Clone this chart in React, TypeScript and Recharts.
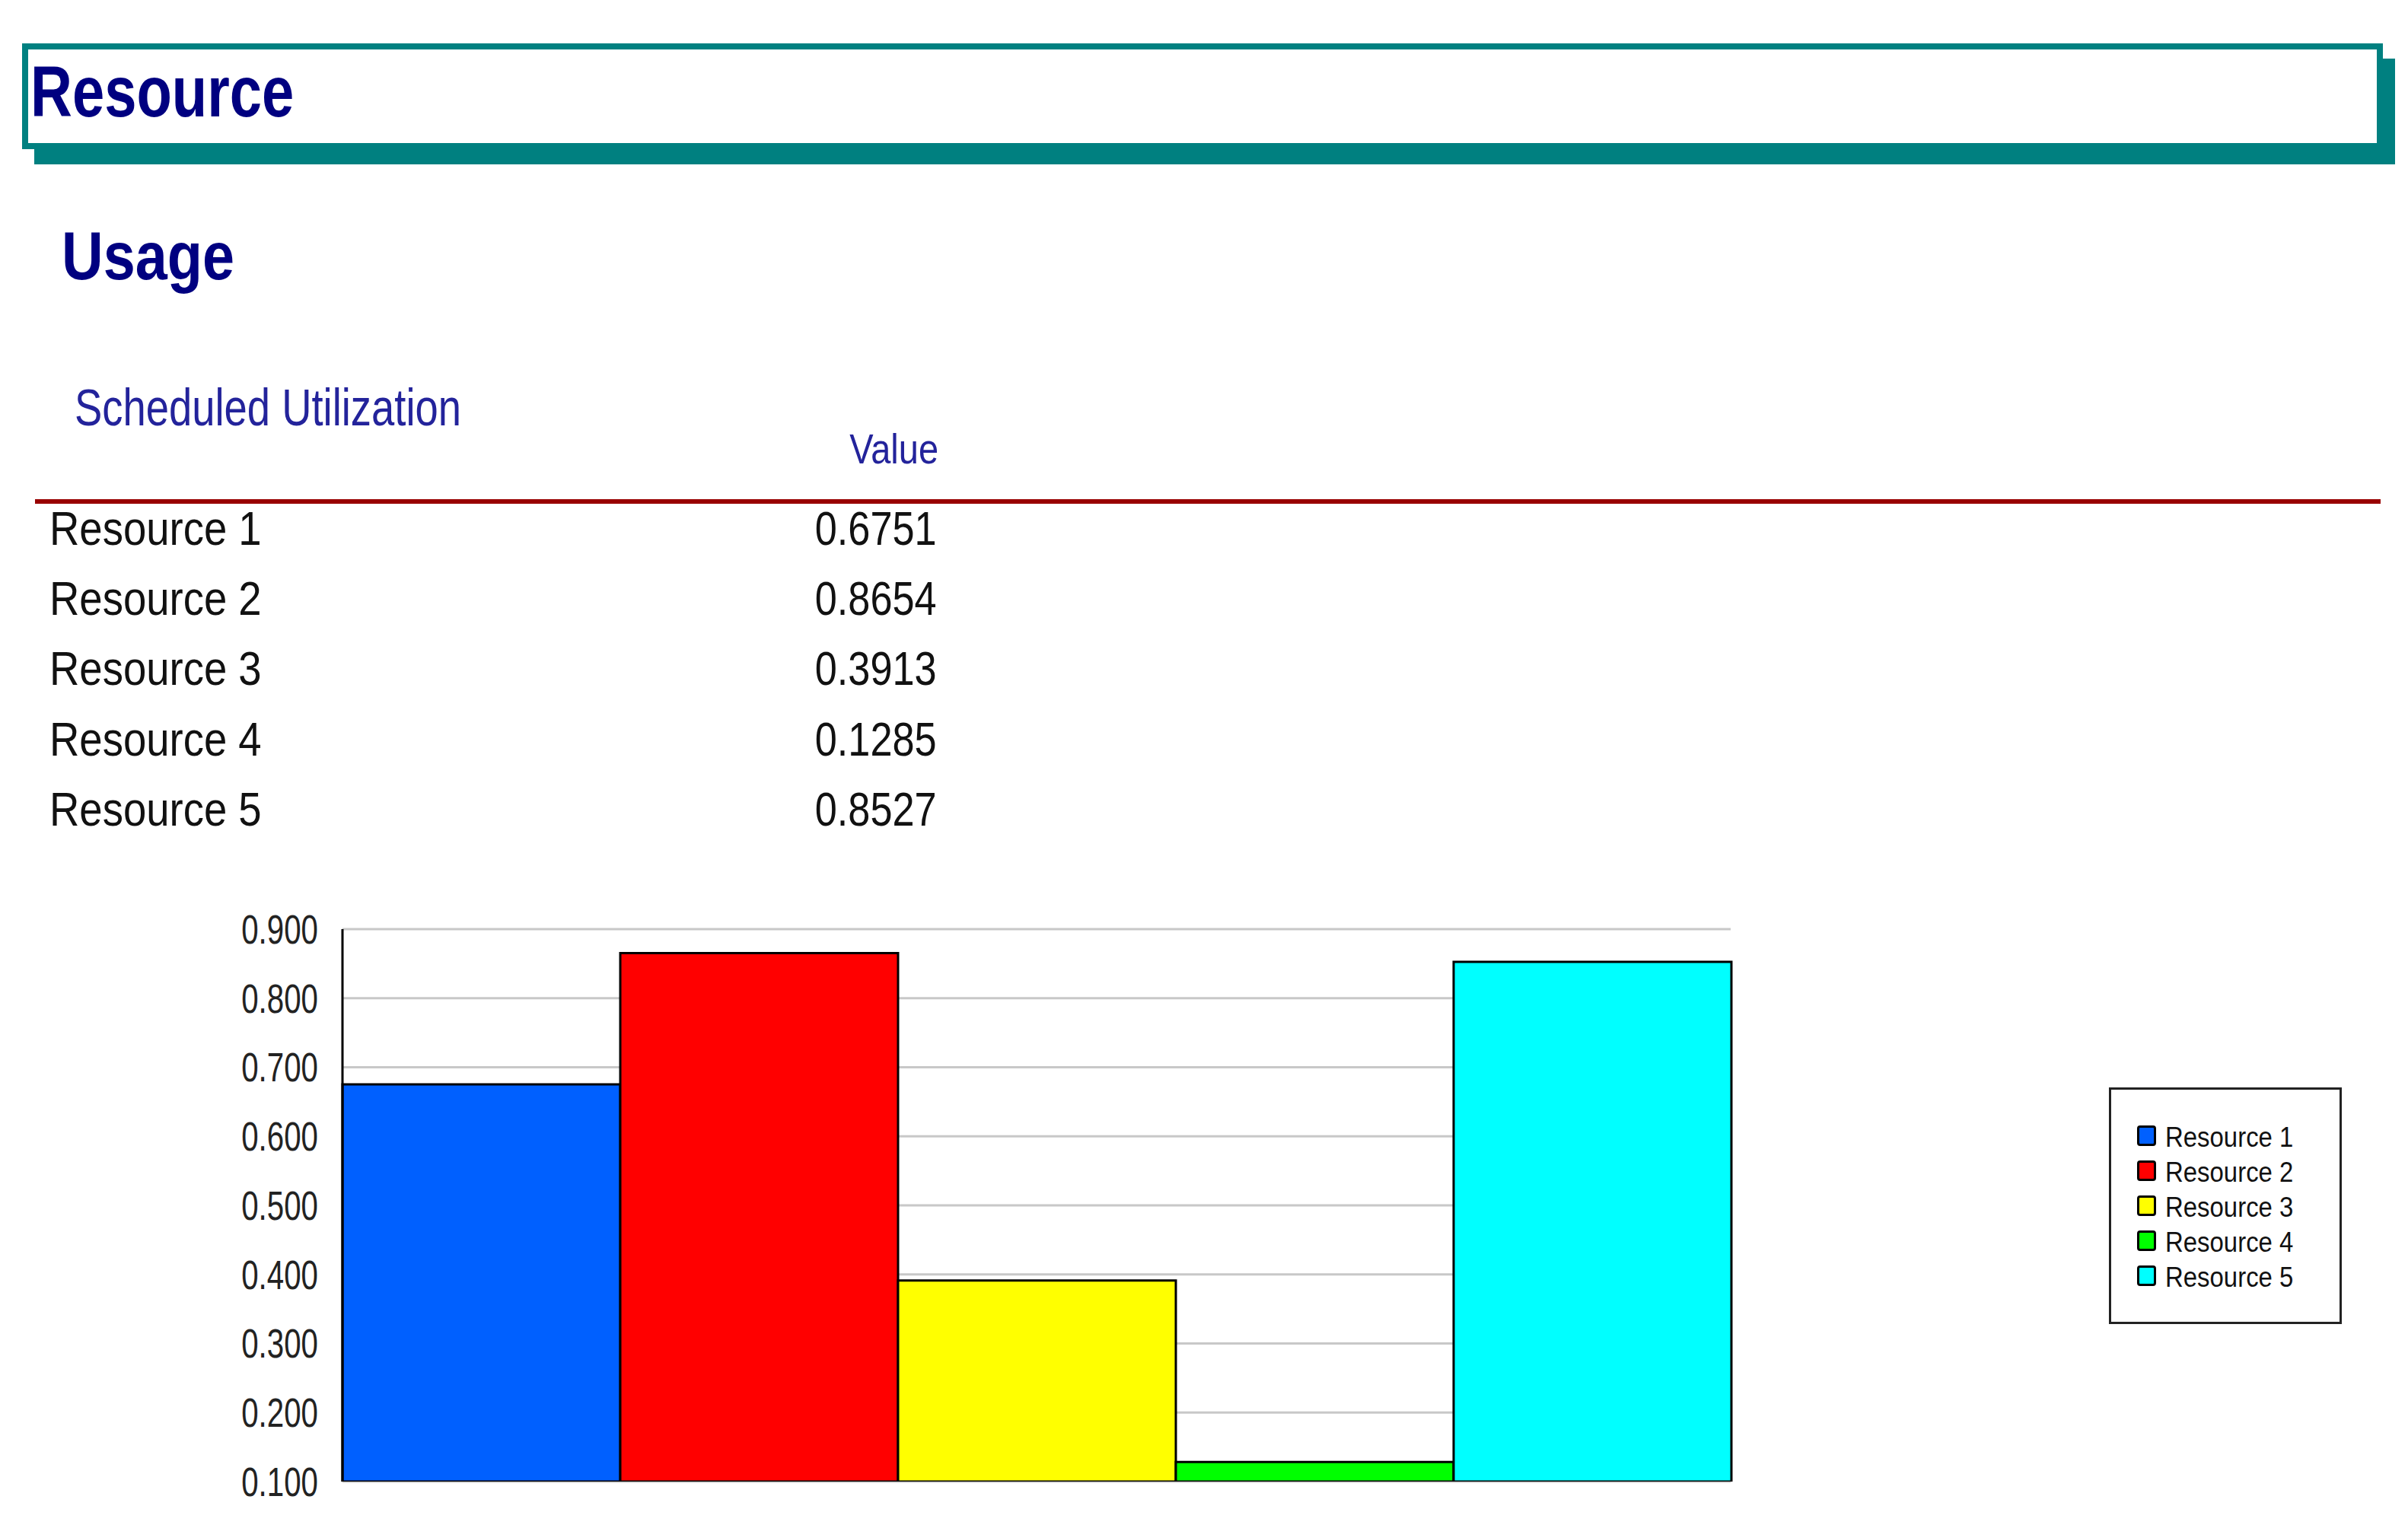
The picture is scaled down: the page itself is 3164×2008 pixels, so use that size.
import React from 'react';
import { BarChart, Bar, XAxis, YAxis, CartesianGrid, Legend } from 'recharts';

const resourceNames = ['Resource 1', 'Resource 2', 'Resource 3', 'Resource 4', 'Resource 5'];
const utilization = [0.6751, 0.8654, 0.3913, 0.1285, 0.8527];
const valueLabels = ['0.6751', '0.8654', '0.3913', '0.1285', '0.8527'];
const barColors = ['#0060ff', '#ff0000', '#ffff00', '#00ff00', '#00ffff'];
const yTicks = [0.1, 0.2, 0.3, 0.4, 0.5, 0.6, 0.7, 0.8, 0.9];

const seriesKeys = resourceNames.map((_, i) => `r${i + 1}`);

// one category, five series side by side (like the original report chart)
const chartData = [
  resourceNames.reduce<Record<string, string | number>>(
    (row, _, i) => ({ ...row, [seriesKeys[i]]: utilization[i] }),
    { name: 'Scheduled Utilization' }
  ),
];

const FONT = '"Liberation Sans", Arial, sans-serif';
const PAGE_W = 3164;

interface TxtProps {
  x: number;
  baseline: number;
  size: number;
  scale?: number;
  weight?: number;
  color?: string;
  align?: 'left' | 'right';
  children: React.ReactNode;
}

// absolutely placed text, baseline at a given y, squeezed horizontally like the source
const Txt: React.FC<TxtProps> = ({ x, baseline, size, scale = 1, weight = 400, color = '#111', align = 'left', children }) => {
  const style: React.CSSProperties = {
    position: 'absolute',
    top: baseline - 0.8465 * size,
    whiteSpace: 'nowrap',
    fontSize: size,
    lineHeight: 1,
    fontWeight: weight,
    color,
    transform: `scaleX(${scale})`,
    transformOrigin: align === 'left' ? 'left center' : 'right center',
  };
  if (align === 'left') style.left = x;
  else style.right = PAGE_W - x;
  return <div style={style}>{children}</div>;
};

const YTick = (props: any) => {
  const { x, y, payload } = props;
  return (
    <text
      x={0}
      y={0}
      transform={`translate(${x},${y}) scale(0.76,1)`}
      textAnchor="end"
      dy="0.355em"
      fontSize={53}
      fill="#222"
      fontFamily={FONT}
    >
      {Number(payload.value).toFixed(3)}
    </text>
  );
};

const LegendBox = (props: any) => {
  const payload = [...(props.payload || [])].sort(
    (a: any, b: any) => resourceNames.indexOf(a.value) - resourceNames.indexOf(b.value)
  );
  return (
    <div
      style={{
        position: 'relative',
        width: 306,
        height: 311,
        boxSizing: 'border-box',
        border: '3px solid #222',
        background: '#fff',
        fontFamily: FONT,
      }}
    >
      {payload.map((entry: any, i: number) => (
        <React.Fragment key={entry.value}>
          <div
            style={{
              position: 'absolute',
              left: 34,
              top: 47 + i * 46,
              width: 25,
              height: 27,
              boxSizing: 'border-box',
              border: '3px solid #000',
              borderRadius: 4,
              background: entry.color,
            }}
          />
          <div
            style={{
              position: 'absolute',
              left: 71,
              top: 75 + i * 46 - 0.8465 * 37,
              fontSize: 37,
              lineHeight: 1,
              whiteSpace: 'nowrap',
              color: '#111',
              transform: 'scaleX(0.89)',
              transformOrigin: 'left center',
            }}
          >
            {entry.value}
          </div>
        </React.Fragment>
      ))}
    </div>
  );
};

export default function App() {
  return (
    <div style={{ position: 'relative', width: PAGE_W, height: 2008, background: '#fff', fontFamily: FONT, overflow: 'hidden' }}>
      <style>{'body{margin:0;}'}</style>

      {/* title banner */}
      <div
        style={{
          position: 'absolute',
          left: 29,
          top: 57,
          width: 3102,
          height: 139,
          boxSizing: 'border-box',
          border: '8px solid #008080',
          background: '#fff',
          boxShadow: '16px 20px 0 #008080',
        }}
      />
      <Txt x={40} baseline={153} size={95} weight={700} color="#000080" scale={0.8}>Resource</Txt>

      <Txt x={81} baseline={367} size={89} weight={700} color="#000080" scale={0.85}>Usage</Txt>

      <Txt x={98} baseline={559} size={68} color="#23239b" scale={0.8}>Scheduled Utilization</Txt>
      <Txt x={1233} baseline={609} size={56} color="#23239b" scale={0.84} align="right">Value</Txt>

      <div style={{ position: 'absolute', left: 46, top: 656, width: 3082, height: 6, background: '#990000' }} />

      {resourceNames.map((name, i) => (
        <React.Fragment key={name}>
          <Txt x={65} baseline={716 + i * 92.3} size={63} scale={0.865}>{name}</Txt>
          <Txt x={1231} baseline={716 + i * 92.3} size={63} scale={0.83} align="right">{valueLabels[i]}</Txt>
        </React.Fragment>
      ))}

      <div style={{ position: 'absolute', left: 0, top: 1150 }}>
        <BarChart
          width={PAGE_W}
          height={858}
          data={chartData}
          margin={{ top: 71, right: 890, bottom: 61, left: 0 }}
          barCategoryGap={0}
          barGap={0}
        >
          <CartesianGrid vertical={false} stroke="#c8c8c8" strokeWidth={3} />
          <XAxis dataKey="name" tick={false} tickLine={false} height={0} axisLine={{ stroke: '#000', strokeWidth: 3 }} />
          <YAxis
            width={450}
            domain={[0.1, 0.9]}
            ticks={yTicks}
            interval={0}
            allowDataOverflow
            tickSize={0}
            tickMargin={32}
            tickLine={false}
            axisLine={{ stroke: '#000', strokeWidth: 3 }}
            tick={<YTick />}
          />
          <YAxis
            yAxisId="right"
            orientation="right"
            width={0}
            tick={false}
            tickLine={false}
            axisLine={{ stroke: '#000', strokeWidth: 3 }}
          />
          <Legend
            layout="horizontal"
            verticalAlign="middle"
            align="center"
            content={<LegendBox />}
            wrapperStyle={{ left: 2771, top: 279, width: 306, height: 311 }}
          />
          {seriesKeys.map((key, i) => (
            <Bar
              key={key}
              dataKey={key}
              name={resourceNames[i]}
              fill={barColors[i]}
              stroke="#000"
              strokeWidth={3}
              isAnimationActive={false}
            />
          ))}
        </BarChart>
      </div>
    </div>
  );
}
